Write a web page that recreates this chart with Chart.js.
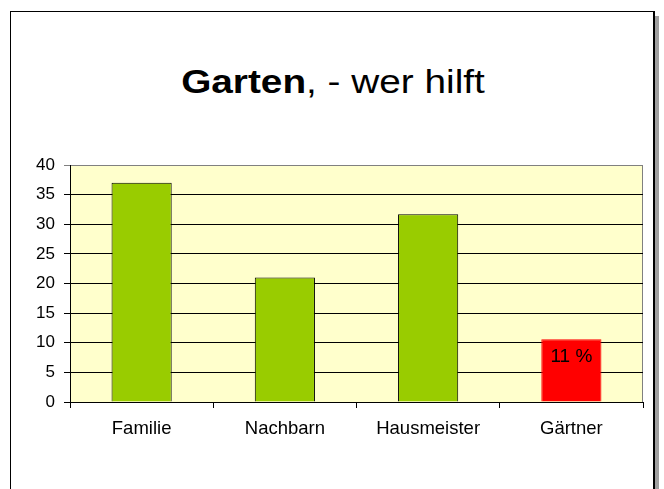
<!DOCTYPE html>
<html>
<head>
<meta charset="utf-8">
<script src="https://cdn.jsdelivr.net/npm/chart.js@4"></script>
<style>
  html, body { margin: 0; padding: 0; background: #fff; }
  body { width: 664px; height: 489px; position: relative; overflow: hidden; font-family: 'Liberation Sans', Arial, sans-serif; }
  .frame {
    position: absolute; left: 10px; top: 11px; width: 642px; height: 520px;
    border: 1px solid #000; border-right-width: 2px;
    box-shadow: 4px 5px 0 #a0a0a0;
    background: #fff;
  }
  .title {
    position: absolute; left: 10px; width: 646px; top: 61px;
    text-align: center; font-size: 34px; color: #000; line-height: 40px;
    transform: scaleX(1.14); transform-origin: 323px 0;
  }
  #chart { position: absolute; left: 0; top: 0; }
</style>
</head>
<body>
<div class="frame"></div>
<div class="title"><b>Garten</b>, - wer hilft</div>
<canvas id="chart" width="664" height="489"></canvas>
<script>
const categories = ['Familie', 'Nachbarn', 'Hausmeister', 'Gärtner'];
const helpValues = [37, 21, 31.7, 10.6];
const barLabels  = ['', '', '', '11 %'];
const yMin = 0, yMax = 40, yStep = 5;

const plotBackground = {
  id: 'plotBackground',
  beforeDraw(chart) {
    const { ctx, chartArea: a } = chart;
    ctx.save();
    ctx.fillStyle = '#FFFFCC';
    ctx.fillRect(a.left, a.top, a.right - a.left, a.bottom - a.top);
    ctx.strokeStyle = '#808080';
    ctx.lineWidth = 1;
    ctx.strokeRect(a.left + 0.5, a.top + 0.5, a.right - a.left - 1, a.bottom - a.top);
    ctx.restore();
  }
};

const barText = {
  id: 'barText',
  afterDatasetsDraw(chart) {
    const { ctx } = chart;
    const meta = chart.getDatasetMeta(0);
    ctx.save();
    ctx.font = '19px "Liberation Sans", Arial, sans-serif';
    ctx.fillStyle = '#000';
    ctx.textAlign = 'center';
    ctx.textBaseline = 'alphabetic';
    meta.data.forEach((bar, i) => {
      if (!barLabels[i]) return;
      ctx.fillText(barLabels[i], bar.x, bar.y + 23);
    });
    ctx.restore();
  }
};

Chart.defaults.font.family = '"Liberation Sans", Arial, sans-serif';
Chart.defaults.color = '#000';

new Chart(document.getElementById('chart'), {
  type: 'bar',
  data: {
    labels: categories,
    datasets: [{
      data: helpValues,
      backgroundColor: ['#99CC00', '#99CC00', '#99CC00', '#FF0000'],
      borderColor: ['#000', '#000', '#000', '#FF0000'],
      borderWidth: 1,
      categoryPercentage: 1,
      barPercentage: 0.42
    }]
  },
  options: {
    responsive: false,
    animation: false,
    layout: { padding: { top: 165, right: 21, left: 0, bottom: 0 } },
    plugins: { legend: { display: false }, tooltip: { enabled: false } },
    scales: {
      x: {
        grid: { drawOnChartArea: false, offset: true, color: '#000', tickLength: 6 },
        border: { color: '#000' },
        ticks: { color: '#000', font: { size: 18.5 }, padding: 10, maxRotation: 0 },
        afterFit(s) { s.height = 87; }
      },
      y: {
        min: yMin, max: yMax,
        ticks: { stepSize: yStep, color: '#000', font: { size: 17 }, padding: 9 },
        grid: { color: c => (c.tick && c.tick.value === yMax ? '#808080' : '#000'), tickLength: 6 },
        border: { color: '#000' },
        afterFit(s) { s.width = 70; }
      }
    }
  },
  plugins: [plotBackground, barText]
});
</script>
</body>
</html>
